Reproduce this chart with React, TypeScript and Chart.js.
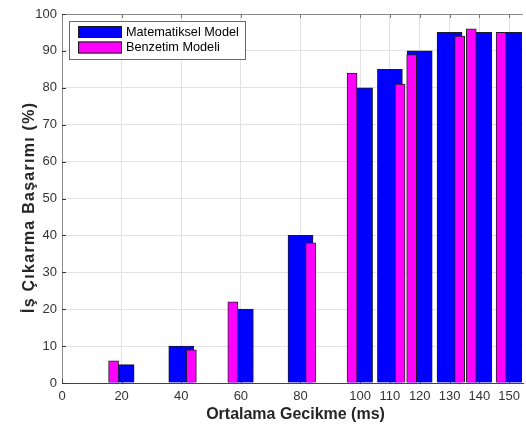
import React, { useEffect, useRef } from 'react';
import { Chart, registerables } from 'chart.js';

Chart.register(...registerables);

// ---- data ----
const categories = [20, 40, 60, 80, 100, 110, 120, 130, 140, 150];
const xTickValues = [0, 20, 40, 60, 80, 100, 110, 120, 130, 140, 150];
const matematikselModel = [5, 10, 20, 40, 80, 85, 90, 95, 95, 95];
const benzetimModeli = [6, 9, 22, 38, 84, 81, 89, 94, 96, 95];
// side of the narrow magenta bar relative to the blue bar: -1 left, 1 right
const benzetimSide = [-1, 1, -1, 1, -1, 1, -1, 1, -1, -1];
const seriesLabels = ['Matematiksel Model', 'Benzetim Modeli'];
const xTitle = 'Ortalama Gecikme (ms)';
const yTitle = 'İş Çıkarma Başarımı (%)';

// ---- style ----
const FONT = '"Liberation Sans", Arial, Helvetica, sans-serif';
const BLUE = '#0000ff';
const MAGENTA = '#ff00ff';
const LEFT_OFFSET = -2.7;
const RIGHT_OFFSET = 3.4;

export default function App() {
  const ref = useRef<HTMLCanvasElement>(null);

  useEffect(() => {
    const canvas = ref.current;
    if (!canvas) return;

    const overlay = {
      id: 'overlay',
      beforeDatasetsDraw(chart: any) {
        const { ctx, chartArea } = chart;
        const xs = chart.scales.x;
        const ys = chart.scales.y;
        ctx.save();
        ctx.lineWidth = 1;
        // top box line
        ctx.strokeStyle = '#8a8a8a';
        ctx.beginPath();
        ctx.moveTo(chartArea.left, chartArea.top + 0.5);
        ctx.lineTo(chartArea.right, chartArea.top + 0.5);
        ctx.stroke();
        // inward ticks
        xTickValues.forEach((v) => {
          const px = Math.round(xs.getPixelForValue(v)) + 0.5;
          ctx.strokeStyle = '#777';
          ctx.beginPath();
          ctx.moveTo(px, chartArea.top);
          ctx.lineTo(px, chartArea.top + 4);
          ctx.stroke();
          ctx.strokeStyle = '#444';
          ctx.beginPath();
          ctx.moveTo(px, chartArea.bottom);
          ctx.lineTo(px, chartArea.bottom - 4);
          ctx.stroke();
        });
        ys.ticks.forEach((t: any) => {
          const py = Math.round(ys.getPixelForValue(t.value)) + 0.5;
          ctx.strokeStyle = '#333';
          ctx.beginPath();
          ctx.moveTo(chartArea.left, py);
          ctx.lineTo(chartArea.left + 4, py);
          ctx.stroke();
        });
        ctx.restore();
      },
      afterDraw(chart: any) {
        const { ctx, chartArea } = chart;
        ctx.save();
        // legend box
        ctx.fillStyle = '#ffffff';
        ctx.fillRect(69, 21, 176, 38);
        ctx.strokeStyle = '#6a6a6a';
        ctx.lineWidth = 1;
        ctx.strokeRect(69.5, 21.5, 176, 38);
        const colors = [BLUE, MAGENTA];
        const rowsY = [26, 41.5];
        colors.forEach((c, i) => {
          ctx.fillStyle = c;
          ctx.fillRect(78, rowsY[i], 44, 12);
          ctx.strokeStyle = '#1a1a1a';
          ctx.strokeRect(78.5, rowsY[i] + 0.5, 43, 11);
          ctx.fillStyle = '#000';
          ctx.font = `12.7px ${FONT}`;
          ctx.textAlign = 'left';
          ctx.textBaseline = 'middle';
          ctx.fillText(seriesLabels[i], 126, rowsY[i] + 6);
        });

        // x title
        ctx.fillStyle = '#262626';
        ctx.font = `bold 16px ${FONT}`;
        ctx.textAlign = 'center';
        ctx.textBaseline = 'alphabetic';
        ctx.fillText(xTitle, 295.5, 418.5);

        // y title
        ctx.save();
        ctx.translate(33.5, 208);
        ctx.rotate(-Math.PI / 2);
        ctx.font = `bold 16px ${FONT}`;
        const w = ctx.measureText(yTitle).width;
        const n = Array.from(yTitle).length;
        const spacing = Math.max(0, (210 - w) / (n - 1));
        if ('letterSpacing' in ctx) {
          (ctx as any).letterSpacing = `${spacing.toFixed(2)}px`;
        }
        ctx.textAlign = 'center';
        ctx.textBaseline = 'alphabetic';
        ctx.fillText(yTitle, spacing / 2, 0);
        ctx.restore();
        ctx.restore();
      },
    };

    const chart = new Chart(canvas, {
      type: 'bar',
      data: {
        datasets: [
          {
            label: seriesLabels[0],
            data: categories.map((c, i) => ({ x: c, y: matematikselModel[i] })),
            backgroundColor: BLUE,
            borderColor: '#1a1a2e',
            borderWidth: 1,
            barThickness: 25,
            grouped: false,
            order: 2,
          } as any,
          {
            label: seriesLabels[1],
            data: categories.map((c, i) => ({
              x: c + (benzetimSide[i] < 0 ? LEFT_OFFSET : RIGHT_OFFSET),
              y: benzetimModeli[i],
            })),
            backgroundColor: MAGENTA,
            borderColor: '#2a1a2a',
            borderWidth: 1,
            barThickness: 10,
            grouped: false,
            order: 1,
          } as any,
        ],
      },
      options: {
        responsive: false,
        animation: false,
        events: [],
        layout: { padding: { top: 14, left: 0, right: 0, bottom: 0 } },
        plugins: {
          legend: { display: false },
          tooltip: { enabled: false },
        },
        scales: {
          x: {
            type: 'linear',
            min: 0,
            max: 154.67,
            offset: false,
            afterBuildTicks: (s: any) => {
              s.ticks = xTickValues.map((v) => ({ value: v }));
            },
            afterFit: (s: any) => {
              s.height = 47;
            },
            ticks: {
              autoSkip: false,
              maxRotation: 0,
              padding: 6,
              color: '#333',
              font: { family: FONT, size: 13 },
              callback: (v: any) => String(v),
            },
            grid: { color: '#e2e2e2', drawTicks: false, offset: false },
            border: { color: '#444', width: 1 },
          },
          y: {
            min: 0,
            max: 100,
            afterFit: (s: any) => {
              s.width = 62;
            },
            ticks: {
              stepSize: 10,
              padding: 5,
              color: '#333',
              font: { family: FONT, size: 13 },
            },
            grid: { color: '#e2e2e2', drawTicks: false },
            border: { color: '#8a8a8a', width: 1 },
          },
        },
      } as any,
      plugins: [overlay],
    });

    return () => chart.destroy();
  }, []);

  return (
    <div style={{ position: 'fixed', left: 0, top: 0, width: 526, height: 430, background: '#fff' }}>
      <canvas ref={ref} width={526} height={430} style={{ display: 'block' }} />
    </div>
  );
}
